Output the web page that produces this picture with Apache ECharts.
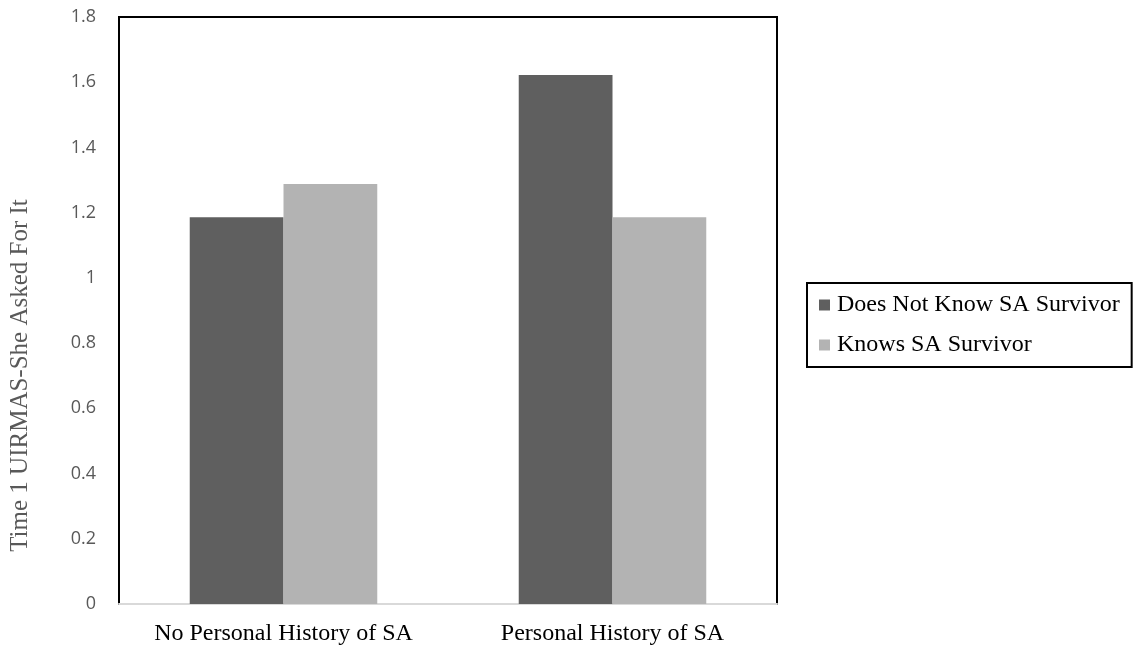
<!DOCTYPE html>
<html>
<head>
<meta charset="utf-8">
<script src="https://cdn.jsdelivr.net/npm/echarts@6/dist/echarts.min.js"></script>
<style>
html,body{margin:0;padding:0;background:#fff;}
#chart{width:1135px;height:647px;}
</style>
</head>
<body>
<div id="chart"></div>
<script>
const categories = ["No Personal History of SA", "Personal History of SA"];
const seriesNames = ["Does Not Know SA Survivor", "Knows SA Survivor"];
const doesNotKnow = [1.186, 1.622];
const knows = [1.288, 1.186];
const yTicks = [0, 0.2, 0.4, 0.6, 0.8, 1, 1.2, 1.4, 1.6, 1.8];
const yTitle = "Time 1 UIRMAS-She Asked For It";

const chart = echarts.init(document.getElementById('chart'), null, {renderer: 'canvas'});
chart.setOption({
  animation: false,
  backgroundColor: '#ffffff',
  grid: {
    left: 117, top: 17, right: 358, bottom: 43,
    show: true, borderColor: '#000', borderWidth: 2, backgroundColor: 'transparent'
  },
  legend: {
    orient: 'vertical',
    left: 807, top: 283,
    padding: [10, 12, 10, 12],
    itemGap: 16,
    itemWidth: 11, itemHeight: 11,
    icon: 'rect',
    borderColor: '#000', borderWidth: 2,
    textStyle: {fontFamily: 'Liberation Serif', fontSize: 24, color: '#000', padding: [0, 0, 0, 2]},
    data: seriesNames
  },
  xAxis: {
    type: 'category',
    data: categories,
    axisLine: {show: true, lineStyle: {color: '#d9d9d9', width: 2}},
    axisTick: {show: false},
    axisLabel: {fontFamily: 'Liberation Serif', fontSize: 24, color: '#000', margin: 18, interval: 0, hideOverlap: false}
  },
  yAxis: {
    type: 'value',
    min: yTicks[0], max: yTicks[yTicks.length - 1], interval: 0.2,
    axisLine: {show: false},
    axisTick: {show: false},
    splitLine: {show: false},
    axisLabel: {
      fontFamily: 'Open Sans', fontSize: 18, color: '#595959', margin: 23,
      formatter: v => String(Math.round(v * 10) / 10)
    },
    name: yTitle,
    nameLocation: 'middle',
    nameGap: 86,
    nameTextStyle: {fontFamily: 'Liberation Serif', fontSize: 25, color: '#595959', padding: [0, 130, 0, 0]}
  },
  series: [
    {
      name: seriesNames[0], type: 'bar', data: doesNotKnow,
      barGap: '0%', barCategoryGap: '43%',
      itemStyle: {color: '#5f5f5f'}
    },
    {
      name: seriesNames[1], type: 'bar', data: knows,
      barGap: '0%', barCategoryGap: '43%',
      itemStyle: {color: '#b3b3b3'}
    }
  ]
});
</script>
</body>
</html>
